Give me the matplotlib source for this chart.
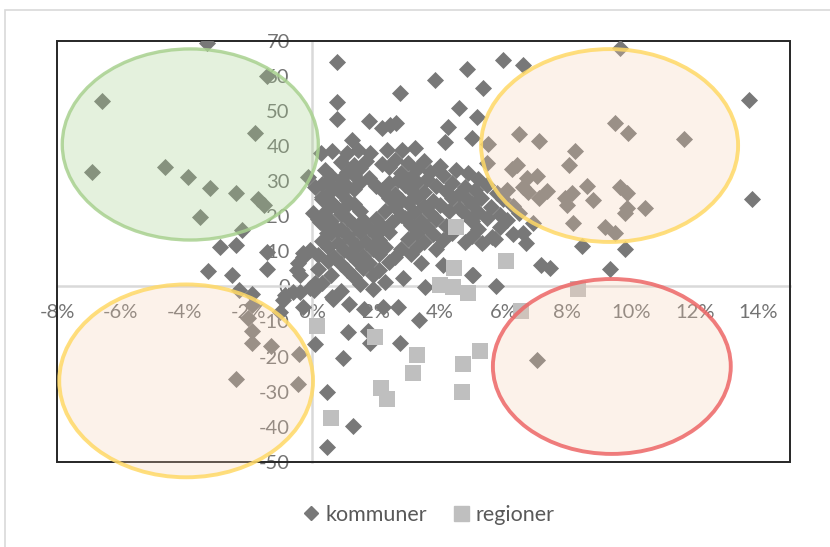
import matplotlib.pyplot as plt
from matplotlib.patches import Ellipse, Rectangle
from matplotlib.lines import Line2D

plt.rcParams['font.family'] = ['Lato', 'DejaVu Sans']

# kommuner: x = change in % , y = value
kom_x = [
    # west of the y axis, upper half
    -3.3, -1.4, -6.6, -1.8, -6.9, -4.6, -3.9, -3.2, -2.4, -1.7,
    -1.5, -3.5, -2.2, -2.9, -2.4, -1.4, -3.25, -2.5, -1.4,
    # around the origin and below it
    -0.3, -0.06, -0.48, -0.27, -0.43, -0.38, -0.06, 0.09, 0.62, -0.85,
    -0.27, -2.3, -1.9, -1.9, -2.0, -1.9, -1.9, -1.3, -0.4, -2.4,
    -0.45, -0.9, -1.0, -0.37, 0.05, -0.59,
    0.64, 1.17, 1.64, 2.22, 2.7, 3.34, 3.55, 5.77, 0.1, 1.13,
    1.75, 1.82, 2.76, 0.97, 0.48, 1.29, 0.48, 7.05,
    # east side
    13.8, 8.45, 9.81, 7.18, 7.46, 9.34, 5.06, 6.71, 13.7, 9.66,
    6.0, 6.6, 5.37, 5.16,
    9.5, 9.92, 11.66, 6.49, 7.13, 5.53, 8.24, 8.07, 5.5, 6.26,
    6.44, 6.73, 7.06, 6.62, 6.78, 6.1, 7.36, 7.13, 7.93, 8.14,
    8.0, 8.63, 8.82, 9.66, 9.87, 9.87, 9.81, 10.44, 8.17, 9.18,
    9.5,
    6.94, 6.31, 5.74, 5.32, 5.63, 6.62, 2.86, 5.0, 4.12,
    # upper middle
    0.77, 0.79, 0.79, 2.76, 3.86, 4.85, 4.62, 4.27, 5.01, 4.17,
    1.77, 2.18, 2.45, 2.63, 1.24, 0.27, 0.62, 1.09, 1.45, 1.82,
    2.34, 2.81, 3.23,
    -0.12, 0.09, 0.46, 0.77, 0.3, 0.62, 0.04, 0.25, 0.46, 0.77,
    # main cloud
    0.9, 1.3, 1.7, 2.2, 2.6, 3.0, 3.5, 4.0,
    0.4, 1.1, 1.5, 2.4, 2.8, 3.3, 3.7, 4.5, 4.9,
    0.6, 0.9, 1.3, 1.8, 2.7, 3.1, 3.6, 4.1, 5.2,
    0.3, 1.1, 1.5, 2.0, 2.4, 2.9, 3.3, 3.9, 4.4, 4.8, 5.5,
    0.6, 0.9, 1.3, 2.2, 2.6, 3.1, 3.5, 4.2, 4.6, 5.1, 5.8,
    0.3, 1.1, 2.4, 2.8, 3.3, 3.8, 4.4, 4.9, 5.3, 6.0,
    0.7, 1.0, 1.3, 2.6, 3.0, 3.5, 4.0, 4.6, 5.0, 5.6, 6.3,
    0.4, 0.9, 1.5, 2.3, 2.8, 3.2, 3.7, 4.3, 4.8, 5.2, 5.9, 6.5,
    0.2, 0.6, 1.1, 1.6, 2.0, 2.5, 2.9, 3.4, 3.9, 5.0, 5.5, 6.1,
    0.4, 0.9, 1.3, 1.8, 2.2, 3.1, 3.6, 4.2, 5.2, 5.9,
    0.6, 1.1, 1.5, 2.0, 2.4, 3.3, 3.8, 4.4, 5.0,
    0.3, 0.8, 1.2, 1.7, 2.1, 3.0, 3.5, 4.1, 4.8,
    0.5, 1.0, 1.4, 1.9, 2.3, 2.8, 3.3, 3.9,
    0.2, 0.7, 1.2, 1.6, 2.1, 2.6, 3.1,
    0.5, 0.9, 1.4, 1.8, 2.4, 3.4,
    0.2, 1.1, 1.6, 2.1,
    0.6, 1.3, 1.9,
    0.3, 1.5, 2.3,
    0.9, 1.9,
]
kom_y = [
    69.4, 59.9, 52.8, 43.8, 32.7, 34.1, 31.2, 27.9, 26.5, 24.8,
    23.2, 19.7, 16.1, 11.3, 11.8, 9.9, 4.5, 3.2, 4.9,
    9.4, 10.4, 4.7, 8.5, 6.6, 3.2, -0.5, 0.9, -2.9, -2.4,
    -5.8, -1.0, -2.2, -5.4, -9.0, -12.6, -16.0, -16.9, -19.2, -26.4,
    -27.8, -3.8, -7.3, -1.5, -1.1, -1.5,
    -3.5, -5.1, -6.3, -5.9, -5.9, -9.5, -0.3, 0.1, -16.5, -13.1,
    -12.6, -16.2, -16.0, -20.3, -30.1, -39.7, -45.6, -21.0,
    24.9, 11.5, 10.6, 6.1, 5.2, 4.9, 3.2, 12.3, 53.1, 67.8,
    64.5, 63.0, 56.4, 48.3,
    46.6, 43.8, 42.0, 43.3, 41.4, 40.5, 38.6, 34.6, 35.0, 33.3,
    34.6, 30.8, 31.4, 28.4, 27.0, 27.4, 27.2, 25.1, 25.3, 26.5,
    23.2, 28.6, 24.6, 28.2, 26.5, 22.2, 20.8, 22.2, 18.0, 16.8,
    15.3,
    18.0, 14.9, 13.4, 12.3, 14.1, 15.1, 2.5, 3.2, 6.1,
    63.8, 52.6, 47.7, 55.0, 58.8, 61.8, 50.7, 45.5, 42.3, 41.2,
    47.1, 45.0, 46.0, 46.4, 41.7, 37.9, 38.4, 37.9, 38.8, 37.9,
    38.8, 38.8, 39.3,
    31.2, 28.4, 29.8, 28.4, 25.5, 23.7, 20.8, 18.4, 15.1, 16.1,
    35.4, 34.6, 35.8, 34.9, 36.1, 35.0, 35.7, 34.3,
    33.2, 32.5, 33.6, 33.9, 32.4, 33.5, 32.7, 33.0, 32.2,
    31.4, 30.6, 31.8, 30.9, 30.4, 31.2, 30.7, 31.6, 30.5,
    29.1, 28.7, 29.6, 28.5, 29.4, 28.8, 29.7, 28.6, 29.3, 28.4, 29.0,
    27.2, 26.5, 27.6, 27.3, 26.4, 27.5, 26.8, 27.1, 26.3, 27.4, 26.6,
    25.0, 24.6, 25.2, 24.7, 25.5, 24.4, 25.1, 24.5, 25.3, 24.8,
    23.1, 22.4, 23.5, 22.5, 23.6, 22.8, 23.2, 22.3, 23.4, 22.7, 23.0,
    21.2, 20.5, 21.4, 21.6, 20.4, 21.3, 20.8, 21.5, 20.6, 21.1, 20.3, 21.0,
    19.3, 18.6, 19.5, 18.8, 19.1, 18.4, 19.6, 18.7, 19.2, 18.5, 19.4, 18.9,
    17.1, 16.4, 17.5, 16.6, 17.3, 17.4, 16.8, 17.2, 16.3, 17.0,
    15.2, 14.5, 15.4, 14.7, 15.6, 15.3, 14.8, 15.1, 14.3,
    13.0, 12.4, 13.4, 12.6, 13.2, 13.5, 12.7, 13.1, 12.5,
    11.1, 10.4, 11.5, 10.6, 11.3, 10.5, 11.2, 10.7,
    9.0, 8.4, 9.3, 8.6, 9.2, 8.5, 9.1,
    7.1, 6.4, 7.3, 6.6, 7.0, 6.7,
    5.0, 4.6, 5.3, 4.7,
    3.1, 2.6, 3.3,
    1.0, 0.6, 1.2,
    -1.2, -0.8,
]

# regioner
reg_x = [4.5, 6.07, 4.45, 4.0, 4.42, 4.88, 6.54, 8.35, 0.15, 1.97,
         3.28, 5.27, 4.74, 3.18, 2.15, 2.36, 4.7, 0.6]
reg_y = [16.8, 7.3, 5.3, 0.4, -0.3, -2.0, -7.1, -0.7, -11.2, -14.5,
         -19.5, -18.4, -22.0, -24.7, -28.8, -32.1, -30.2, -37.4]

x_ticks = list(range(-8, 15, 2))
y_ticks = list(range(-50, 71, 10))

fig = plt.figure(figsize=(8.3, 5.47), dpi=100)
fig.patches.append(Rectangle((5 / 830, -0.1), 1.2, 1 - 10 / 547 + 0.1,
                             transform=fig.transFigure, fill=False,
                             edgecolor='#d9d9d9', lw=1.2))

ax = fig.add_axes([57 / 830, 1 - 462 / 547, 733.4 / 830, 421.5 / 547])
ax.set_xlim(-8, 15)
ax.set_ylim(-50, 70)

ax.scatter(kom_x, kom_y, marker='D', s=8.7 ** 2, color='#787878',
           linewidths=0, zorder=3)
ax.scatter(reg_x, reg_y, marker='s', s=12.2 ** 2, color='#bfbfbf',
           linewidths=0, zorder=3.5)

# quadrant highlights
ax.add_patch(Ellipse((-3.82, 40.4), 8.03, 54.4, facecolor=(0.66, 0.82, 0.56, 0.3),
                     edgecolor=(0.66, 0.82, 0.56, 0.85), lw=2.4, zorder=4, clip_on=False))
ax.add_patch(Ellipse((9.33, 40.1), 8.06, 54.9, facecolor=(0.97, 0.82, 0.70, 0.27),
                     edgecolor=(1.0, 0.85, 0.4, 0.85), lw=2.8, zorder=4, clip_on=False))
ax.add_patch(Ellipse((-3.95, -26.9), 7.96, 54.9, facecolor=(0.97, 0.82, 0.70, 0.27),
                     edgecolor=(1.0, 0.85, 0.4, 0.85), lw=2.8, zorder=4, clip_on=False))
ax.add_patch(Ellipse((9.4, -22.8), 7.46, 49.8, facecolor=(0.97, 0.82, 0.70, 0.27),
                     edgecolor=(0.93, 0.40, 0.40, 0.85), lw=2.8, zorder=4, clip_on=False))

for side in ['top', 'right']:
    ax.spines[side].set_visible(False)
for side in ['left', 'bottom']:
    ax.spines[side].set_position(('data', 0))
    ax.spines[side].set_color('#d9d9d9')
    ax.spines[side].set_linewidth(1.8)
ax.add_patch(Rectangle((0, 0), 1, 1, transform=ax.transAxes, fill=False,
                       edgecolor='#262626', lw=1.4, zorder=2.6, clip_on=False))

ax.set_xticks(x_ticks)
ax.set_xticklabels([f'{t}%' for t in x_ticks])
ax.set_yticks(y_ticks)
ax.set_yticklabels([str(t) for t in y_ticks])
ax.tick_params(axis='both', length=0, labelsize=14.5, labelcolor='#737373')
ax.tick_params(axis='x', pad=13)
ax.tick_params(axis='y', pad=16)

handles = [
    Line2D([], [], marker='D', ls='none', color='#787878', markersize=7.2),
    Line2D([], [], marker='s', ls='none', color='#bfbfbf', markersize=10.8),
]
fig.legend(handles, ['kommuner', 'regioner'], loc='center',
           bbox_to_anchor=(0.516, 0.0585), ncol=2, frameon=False,
           fontsize=15.5, labelcolor='#595959', handlelength=0.8,
           handletextpad=0.25, columnspacing=1.2)

fig.savefig('out.png', dpi=100)
